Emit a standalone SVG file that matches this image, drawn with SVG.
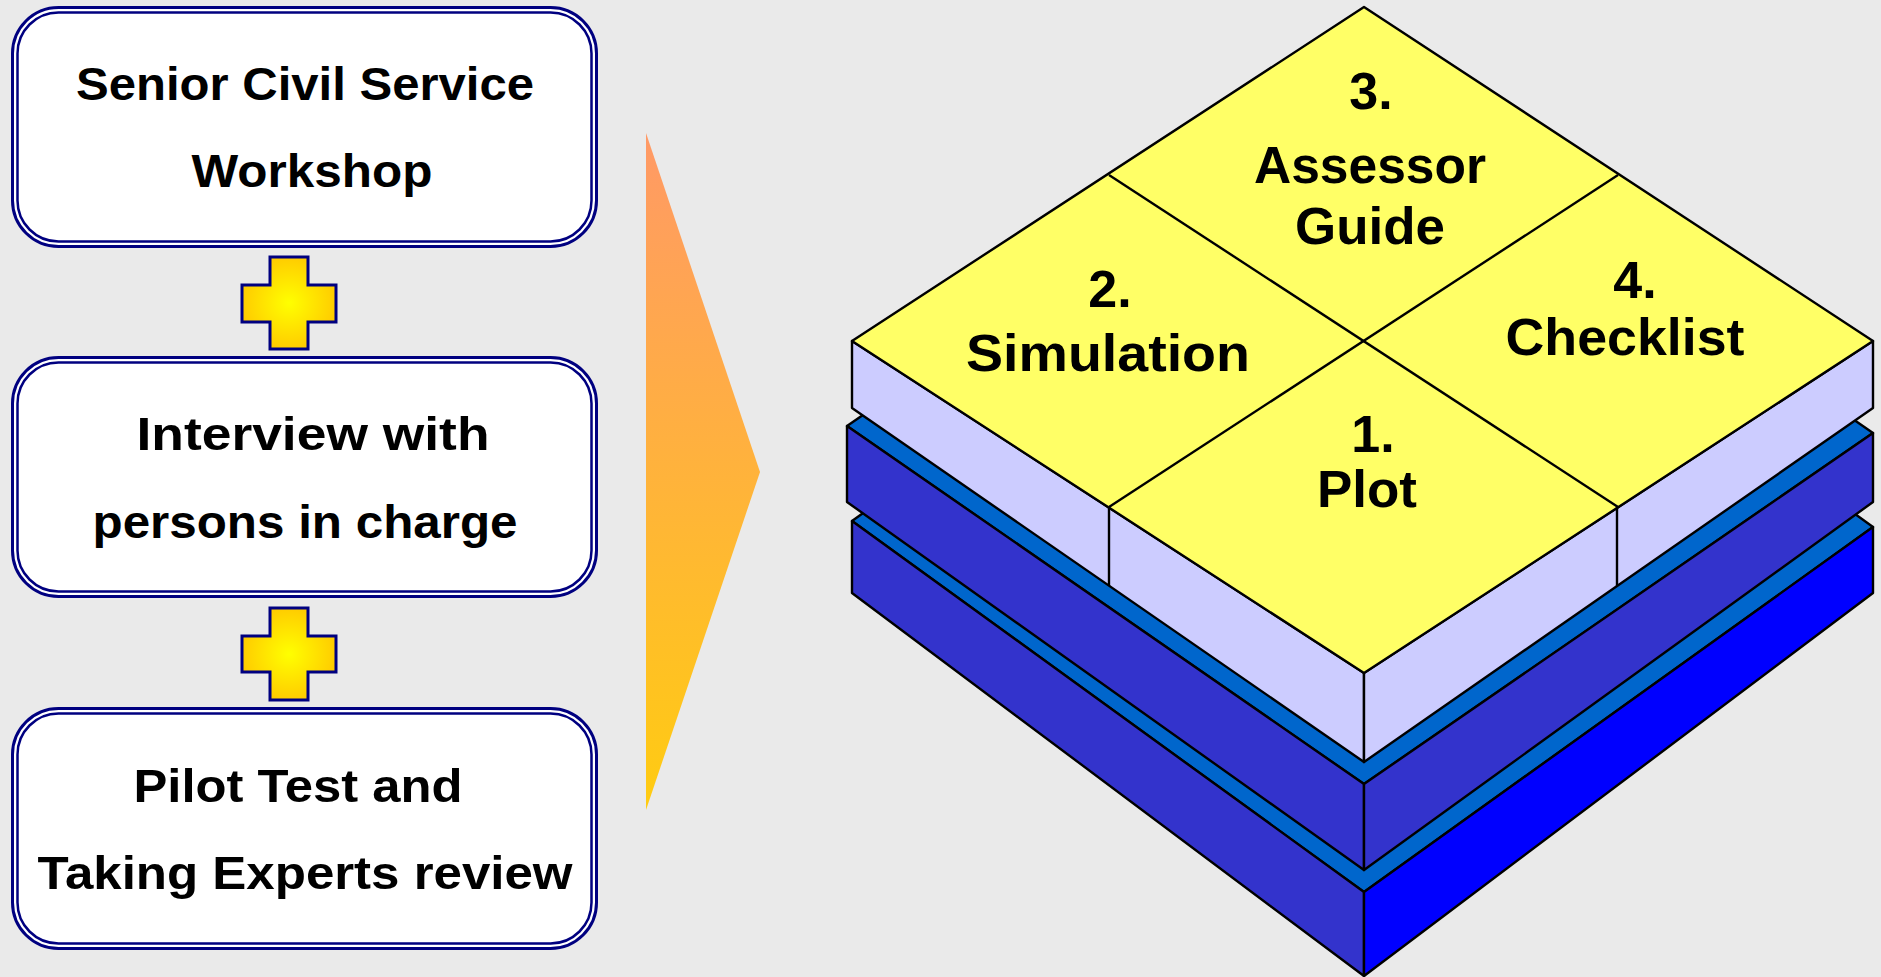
<svg xmlns="http://www.w3.org/2000/svg" width="1881" height="977" viewBox="0 0 1881 977">
  <defs>
    <linearGradient id="arrowFill" x1="0" y1="0" x2="0" y2="1">
      <stop offset="0" stop-color="#FF9966"/>
      <stop offset="1" stop-color="#FFCC11"/>
    </linearGradient>
    <radialGradient id="plusFill" cx="0.5" cy="0.5" r="0.5">
      <stop offset="0" stop-color="#FFFF00"/>
      <stop offset="1" stop-color="#FFCC00"/>
    </radialGradient>
  </defs>
  <style>
    .frame-outer { fill: #FFFFFF; stroke: #000080; stroke-width: 3; }
    .frame-inner { fill: #FFFFFF; stroke: #000080; stroke-width: 2.5; }
    .box-text { font-family: "Liberation Sans", Arial, sans-serif; font-weight: bold; font-size: 46px; fill: #000000; text-anchor: middle; }
    .plus { fill: url(#plusFill); stroke: #000080; stroke-width: 3; stroke-linejoin: miter; }
    .face { stroke: #000000; stroke-width: 2.4; stroke-linejoin: round; }
    .edge { fill: none; stroke: #000000; stroke-width: 2.4; }
    .yellow { fill: #FFFF66; }
    .lavender { fill: #CCCCFF; }
    .strip { fill: #0066CC; }
    .indigo { fill: #3333CC; }
    .blue { fill: #0000FF; }
    .cube-text { font-family: "Liberation Sans", Arial, sans-serif; font-weight: bold; font-size: 52px; fill: #000000; text-anchor: middle; }
  </style>

  <rect width="1881" height="977" fill="#EAEAEA"/>

  <!-- input steps on the left -->
  <g id="step-workshop">
    <rect class="frame-outer" x="12.5" y="7.5" width="584" height="239" rx="46"/>
    <rect class="frame-inner" x="17.5" y="12.5" width="574" height="229" rx="41"/>
    <text class="box-text" x="305" y="100" textLength="458" lengthAdjust="spacingAndGlyphs">Senior Civil Service</text>
    <text class="box-text" x="312" y="187" textLength="241" lengthAdjust="spacingAndGlyphs">Workshop</text>
  </g>

  <g id="plus-1">
    <path class="plus" d="M270,257 H308 V285 H336 V322 H308 V349 H270 V322 H242 V285 H270 Z"/>
  </g>

  <g id="step-interview">
    <rect class="frame-outer" x="12.5" y="357.5" width="584" height="239" rx="46"/>
    <rect class="frame-inner" x="17.5" y="362.5" width="574" height="229" rx="41"/>
    <text class="box-text" x="313" y="450" textLength="353" lengthAdjust="spacingAndGlyphs">Interview with</text>
    <text class="box-text" x="305" y="538" textLength="425" lengthAdjust="spacingAndGlyphs">persons in charge</text>
  </g>

  <g id="plus-2">
    <path class="plus" d="M270,608 H308 V636 H336 V672 H308 V700 H270 V672 H242 V636 H270 Z"/>
  </g>

  <g id="step-pilot">
    <rect class="frame-outer" x="12.5" y="708.5" width="584" height="240" rx="46"/>
    <rect class="frame-inner" x="17.5" y="713.5" width="574" height="230" rx="41"/>
    <text class="box-text" x="298" y="802" textLength="329" lengthAdjust="spacingAndGlyphs">Pilot Test and</text>
    <text class="box-text" x="305" y="889" textLength="535" lengthAdjust="spacingAndGlyphs">Taking Experts review</text>
  </g>

  <!-- flow pointer -->
  <g id="connectors">
    <polygon points="646,133 760,472 646,810" fill="url(#arrowFill)"/>
  </g>

  <!-- stacked result blocks: bottom layer first -->
  <g id="layer-base">
    <polygon class="face strip" points="852,521 1361,156 1873,527 1364,892"/>
    <polygon class="face indigo" points="852,521 1364,892 1364,976 852,593"/>
    <polygon class="face blue" points="1364,892 1873,527 1873,593 1364,976"/>
  </g>

  <g id="layer-middle">
    <polygon class="face strip" points="847,426 1356,75 1873,433 1364,784"/>
    <polygon class="face indigo" points="847,426 1364,784 1364,870 847,502"/>
    <polygon class="face indigo" points="1364,784 1873,433 1873,502 1364,870"/>
  </g>

  <g id="layer-top">
    <polygon class="face lavender" points="852,341 1364,673 1364,762 852,408"/>
    <polygon class="face lavender" points="1364,673 1873,341 1873,408 1364,762"/>
    <polygon class="face yellow" points="1364,7 1873,341 1364,673 852,341"/>
    <line class="edge" x1="1109" y1="175" x2="1618" y2="507"/>
    <line class="edge" x1="1618" y1="175" x2="1109" y2="507"/>
    <line class="edge" x1="1109" y1="507" x2="1109" y2="586"/>
    <line class="edge" x1="1617" y1="507" x2="1617" y2="586"/>
  </g>

  <g id="block-assessor-guide">
    <text class="cube-text" x="1371" y="109">3.</text>
    <text class="cube-text" x="1370" y="183" textLength="232" lengthAdjust="spacingAndGlyphs">Assessor</text>
    <text class="cube-text" x="1370" y="244" textLength="150" lengthAdjust="spacingAndGlyphs">Guide</text>
  </g>

  <g id="block-simulation">
    <text class="cube-text" x="1110" y="307">2.</text>
    <text class="cube-text" x="1108" y="371" textLength="284" lengthAdjust="spacingAndGlyphs">Simulation</text>
  </g>

  <g id="block-checklist">
    <text class="cube-text" x="1635" y="298">4.</text>
    <text class="cube-text" x="1625" y="355" textLength="239" lengthAdjust="spacingAndGlyphs">Checklist</text>
  </g>

  <g id="block-plot">
    <text class="cube-text" x="1373" y="452">1.</text>
    <text class="cube-text" x="1367" y="507" textLength="100" lengthAdjust="spacingAndGlyphs">Plot</text>
  </g>
</svg>
